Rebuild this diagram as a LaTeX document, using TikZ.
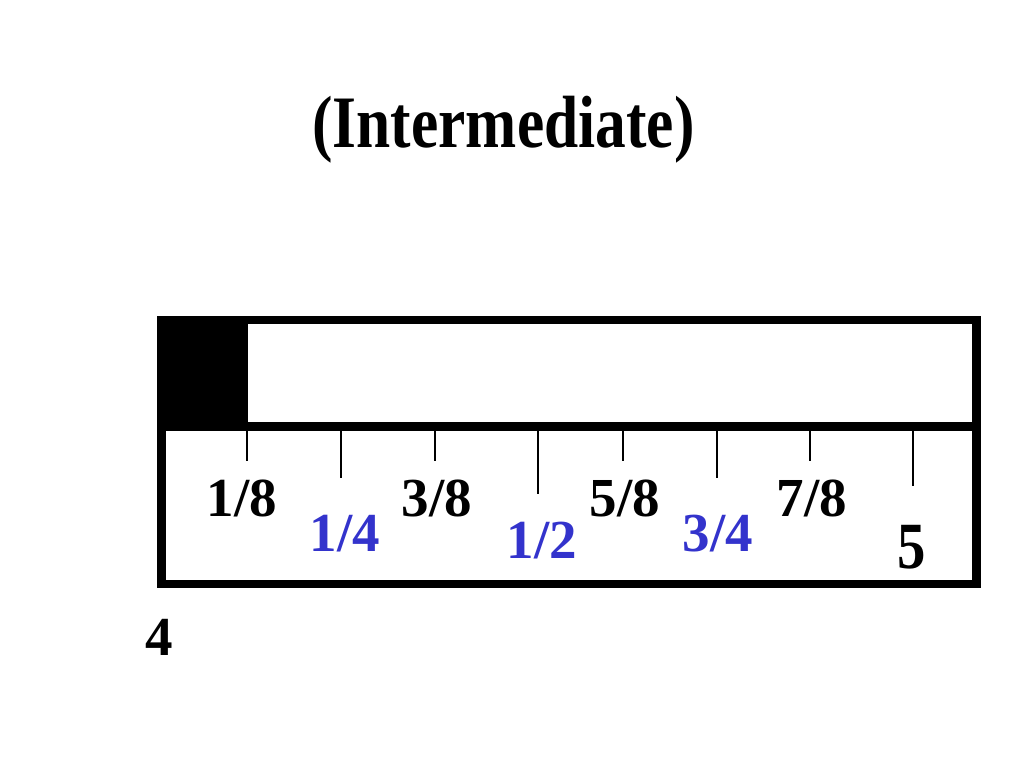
\documentclass[tikz,border=0pt]{standalone}
\usepackage{fontspec}
\setmainfont{Liberation Serif}
\definecolor{fracblue}{RGB}{51,51,204}
\tikzset{
	label8/.style={anchor=base, inner sep=0, font=\bfseries\fontsize{55}{60}\selectfont},
	label4/.style={label8, text=fracblue},
	tick/.style={line width=1.5pt},
}
\begin{document}
\begin{tikzpicture}[x=1pt, y=-1pt]
		\useasboundingbox (0, 0) rectangle (1024, 768);

		\coordinate (a) at (161.5, 320);
		\coordinate (b) at (976.5, 320);
		\coordinate (c) at (976.5, 584);
		\coordinate (d) at (161.5, 584);
		\coordinate (e) at (161.5, 426.5);
		\coordinate (f) at (976.5, 426.5);

		\fill (158, 316) rectangle (248, 431);
		\draw[line width=8.5pt] (a) -- (b) -- (c) -- (d) -- cycle;
		\draw[line width=8.5pt] (e) -- (f);

		\draw[tick] (247, 426.5) -- (247, 461);
		\draw[tick] (341, 426.5) -- (341, 478);
		\draw[tick] (435, 426.5) -- (435, 461);
		\draw[tick] (538, 426.5) -- (538, 494);
		\draw[tick] (623, 426.5) -- (623, 461);
		\draw[tick] (717, 426.5) -- (717, 478);
		\draw[tick] (810, 426.5) -- (810, 461);
		\draw[tick] (913, 426.5) -- (913, 486);

		\node[label8] (e1) at (242, 516) {1/8};
		\node[label4] (q1) at (345, 551) {1/4};
		\node[label8] (e3) at (437, 516) {3/8};
		\node[label4] (h1) at (542, 558) {1/2};
		\node[label8] (e5) at (625, 516) {5/8};
		\node[label4] (q3) at (718, 551) {3/4};
		\node[label8] (e7) at (812, 516) {7/8};
		\node[label8, font=\bfseries\fontsize{66}{70}\selectfont, xscale=0.86, transform shape] (five) at (912, 568) {5};
		\node[label8] (four) at (159, 655) {4};

		\node[anchor=base, inner sep=0, font=\bfseries\fontsize{74}{80}\selectfont, xscale=0.83, transform shape] (title) at (503.5, 147) {(Intermediate)};
	\end{tikzpicture}
\end{document}
